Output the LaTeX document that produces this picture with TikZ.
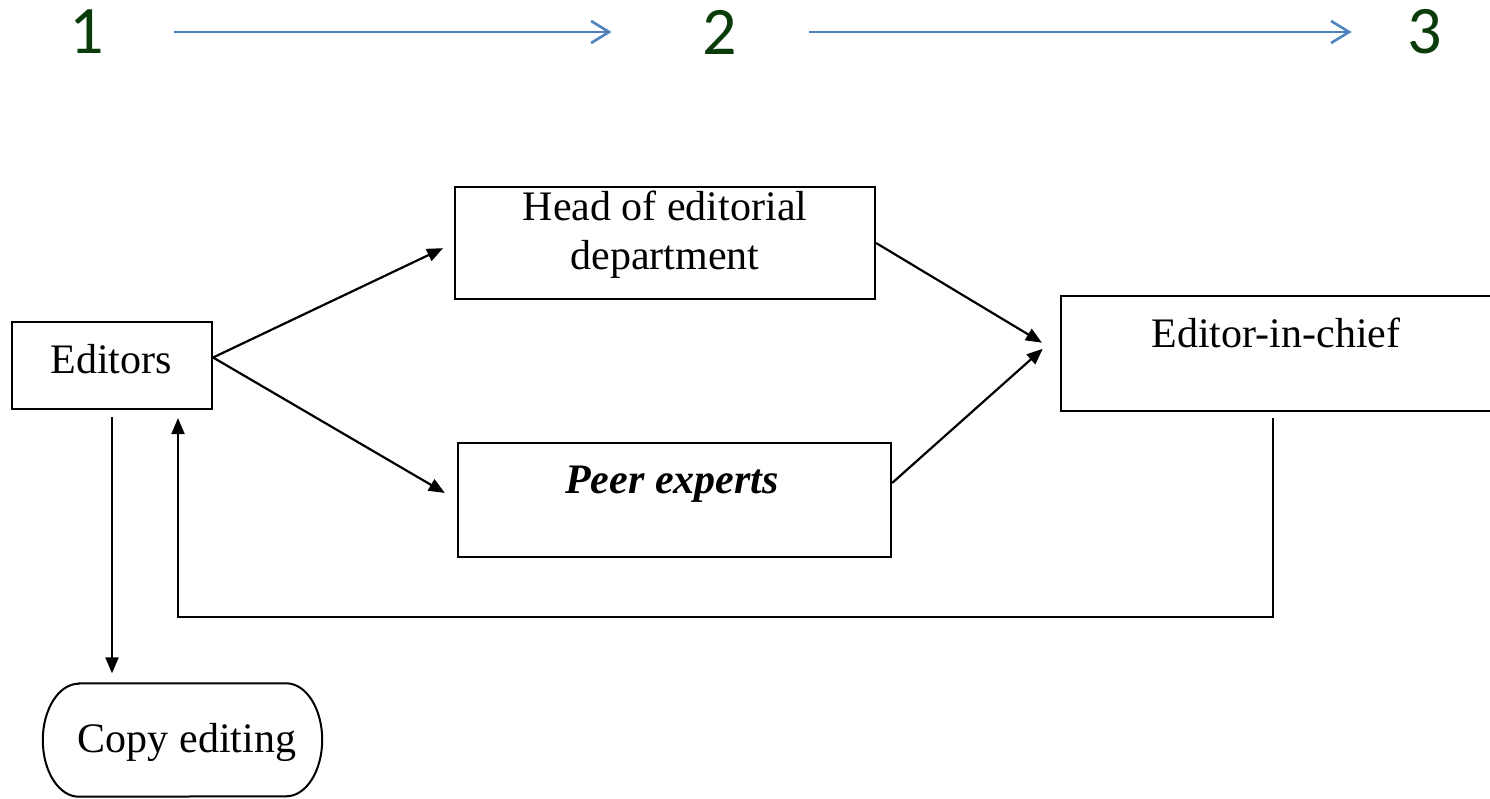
\documentclass[tikz,border=0pt]{standalone}
\usepackage{fontspec}
\setmainfont{Liberation Serif}
\newfontfamily\carlito{Carlito}
\usetikzlibrary{arrows.meta}
\definecolor{numgreen}{RGB}{10,60,10}
\definecolor{flowblue}{RGB}{79,129,189}
\begin{document}
\begin{tikzpicture}[x=1pt,y=-1pt,
  box/.style={draw,line width=2.2pt,inner sep=0pt},
  txt/.style={font=\fontsize{42}{49}\selectfont, inner sep=0pt, anchor=base},
  arr/.style={line width=2.2pt,-{Triangle[length=16pt,width=13pt]}},
  num/.style={font=\carlito\fontsize{68}{74}\selectfont,text=numgreen,inner sep=0pt},
  flow/.style={draw=flowblue,line width=2.6pt,-{Straight Barb[length=18pt,width=22pt,line width=2.6pt]}}]
\useasboundingbox (0,0) rectangle (1490,798);

% step numbers
\node[num] (n1) at (87,32) {1};
\node[num] (n2) at (720,32) {2};
\node[num] (n3) at (1425,32) {3};
\draw[flow,shorten <=70pt,shorten >=91pt] (n1.east) -- (n2.west);
\draw[flow,shorten <=72pt,shorten >=56pt] (n2.east) -- (n3.west);

% boxes
\node[box,minimum width=200pt,minimum height=87pt] (ed) at (112,365.5) {};
\node[box,minimum width=420pt,minimum height=112pt] (head) at (665,243) {};
\node[box,minimum width=433pt,minimum height=114pt] (peer) at (674.5,500) {};
\node[box,minimum width=439pt,minimum height=115pt] (eic) at (1280.5,353.5) {};
\node[inner sep=0pt,minimum width=279pt,minimum height=113pt] (copy) at (182.5,740) {};
\draw[line width=2pt] ([xshift=36pt]copy.north west) -- ([xshift=-36pt]copy.north east)
  arc[start angle=90,end angle=-90,x radius=36pt,y radius=56.5pt]
  -- ([xshift=36pt]copy.south west)
  arc[start angle=270,end angle=90,x radius=36pt,y radius=56.5pt] -- cycle;

% texts
\node[txt] (edt) at (111,373) {Editors};
\node[txt,align=center,anchor=center] (headt) at (665,235) {Head of editorial\\department};
\node[txt,font=\fontsize{42}{49}\selectfont\bfseries\itshape] (peert) at (672,493) {Peer experts};
\node[txt] (eict) at (1276,347) {Editor-in-chief};
\node[txt] (copyt) at (187,752) {Copy editing};

% connectors
\draw[arr,shorten >=12pt] ([yshift=8pt]ed.east) -- (head.west);
\draw[arr,shorten >=14pt] ([yshift=8pt]ed.east) -- (peer.west);
\draw[arr,shorten >=21pt] (head.east) -- (eic.west);
\draw[arr,shorten >=23pt] ([yshift=17pt]peer.east) -- ([yshift=20pt]eic.west);
\coordinate (ret) at (178,617);
\draw[arr,shorten >=8pt] ([xshift=-7.5pt,yshift=-6pt]eic.south) |- (ret) -- ([xshift=66pt]ed.south);
\draw[arr,shorten <=7pt,shorten >=10pt] (ed.south) -- (ed.south |- copy.north);
\end{tikzpicture}
\end{document}
